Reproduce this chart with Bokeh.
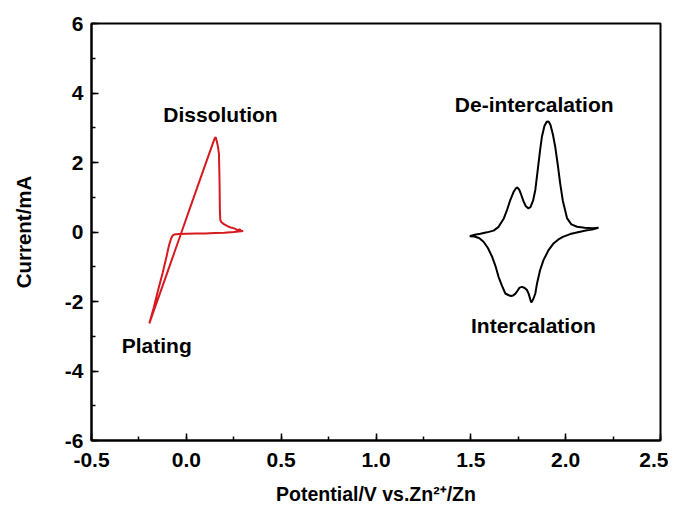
from bokeh.plotting import figure
from bokeh.models import Range1d, SingleIntervalTicker, PrintfTickFormatter, Label
from bokeh.embed import file_html
from bokeh.resources import INLINE

# Zn plating / dissolution CV (red)
zn_potential = [0.30, 0.25, 0.20, 0.15, 0.10, 0.05, 0.00, -0.04, -0.062, -0.072, -0.080,
                -0.092, -0.105, -0.125, -0.15, -0.172, -0.195,
                -0.17, -0.14, -0.10, -0.06, -0.02, 0.02, 0.06, 0.10, 0.13, 0.143, 0.150,
                0.155, 0.160, 0.167, 0.172, 0.175, 0.177, 0.179, 0.185, 0.20, 0.22, 0.24,
                0.26, 0.27, 0.28, 0.29, 0.30]
zn_current = [0.03, 0.00, -0.02, -0.03, -0.04, -0.045, -0.05, -0.06, -0.07, -0.10, -0.18,
              -0.40, -0.72, -1.18, -1.70, -2.18, -2.63,
              -2.24, -1.78, -1.16, -0.54, 0.08, 0.70, 1.32, 1.94, 2.40, 2.60, 2.70,
              2.73, 2.62, 2.45, 2.25, 1.50, 0.60, 0.35, 0.28, 0.22, 0.16, 0.12,
              0.09, 0.04, 0.08, 0.03, 0.03]

# Cathode intercalation / de-intercalation CV (black)
cat_potential = [1.494, 1.52, 1.55, 1.585, 1.62, 1.645, 1.673, 1.69, 1.708, 1.725, 1.738, 1.746,
                 1.755, 1.765, 1.778, 1.790, 1.804, 1.815, 1.828, 1.840, 1.852, 1.865, 1.875,
                 1.888, 1.900, 1.910, 1.920, 1.933, 1.945, 1.958, 1.971, 1.985, 2.007, 2.030,
                 2.06, 2.10, 2.14, 2.173,
                 2.14, 2.112, 2.07, 2.024, 1.985, 1.960, 1.936, 1.910, 1.883, 1.865, 1.849,
                 1.840, 1.830, 1.822, 1.819, 1.814, 1.805, 1.796, 1.784, 1.770, 1.757, 1.745,
                 1.734, 1.722, 1.712, 1.700, 1.682, 1.665, 1.646, 1.630, 1.612, 1.590, 1.567,
                 1.545, 1.52, 1.494]
cat_current = [-0.12, -0.08, -0.05, -0.01, 0.04, 0.14, 0.38, 0.62, 0.92, 1.15, 1.26, 1.28,
               1.22, 1.08, 0.88, 0.74, 0.68, 0.72, 0.90, 1.21, 1.75, 2.35, 2.75,
               3.05, 3.17, 3.18, 3.08, 2.80, 2.45, 1.95, 1.40, 0.90, 0.40, 0.22,
               0.15, 0.12, 0.11, 0.12,
               0.07, 0.05, 0.00, -0.06, -0.14, -0.22, -0.33, -0.52, -0.81, -1.10, -1.48,
               -1.77, -1.92, -2.00, -2.03, -1.95, -1.78, -1.67, -1.61, -1.58, -1.60, -1.70,
               -1.78, -1.83, -1.84, -1.82, -1.77, -1.56, -1.29, -0.98, -0.71, -0.46, -0.28,
               -0.18, -0.13, -0.12]

x_start, x_end = -0.5, 2.5
y_start, y_end = -6, 6

FONT = "Liberation Sans"

p = figure(width=668, height=510, output_backend="svg", toolbar_location=None,
           x_range=Range1d(x_start, x_end), y_range=Range1d(y_start, y_end),
           min_border_left=91, min_border_right=8, min_border_top=23, min_border_bottom=70,
           background_fill_color="white", border_fill_color="white")

p.line(zn_potential, zn_current, line_color="#d71920", line_width=2)
p.line(cat_potential, cat_current, line_color="black", line_width=2)

p.xgrid.visible = False
p.ygrid.visible = False
p.outline_line_color = "black"
p.outline_line_width = 2

p.xaxis.ticker = SingleIntervalTicker(interval=0.5, num_minor_ticks=2)
p.yaxis.ticker = SingleIntervalTicker(interval=2, num_minor_ticks=2)
p.xaxis.formatter = PrintfTickFormatter(format="%.1f")
p.yaxis.formatter = PrintfTickFormatter(format="%d")

for ax in (p.xaxis, p.yaxis):
    ax.axis_line_color = "black"
    ax.axis_line_width = 2
    ax.major_tick_line_color = "black"
    ax.major_tick_line_width = 1.5
    ax.minor_tick_line_color = "black"
    ax.minor_tick_line_width = 1.5
    ax.major_tick_in = 7
    ax.major_tick_out = 0
    ax.minor_tick_in = 4
    ax.minor_tick_out = 0
    ax.major_label_text_font = FONT
    ax.major_label_text_font_style = "bold"
    ax.major_label_text_font_size = "21px"
    ax.major_label_text_color = "black"
    ax.axis_label_text_font = FONT
    ax.axis_label_text_font_style = "bold"
    ax.axis_label_text_color = "black"

p.xaxis.axis_label_text_font_size = "19.5px"
p.yaxis.axis_label_text_font_size = "20.5px"
p.xaxis.axis_label = "Potential/V vs.Zn\u00b2\u207a/Zn"
p.yaxis.axis_label = "Current/mA"
p.xaxis.major_label_standoff = 12
p.yaxis.major_label_standoff = 8
p.xaxis.axis_label_standoff = 13
p.yaxis.axis_label_standoff = 27

labels = [
    ("Dissolution", 0.18, 3.37),
    ("De-intercalation", 1.834, 3.66),
    ("Intercalation", 1.83, -2.68),
    ("Plating", -0.156, -3.26),
]
for txt, lx, ly in labels:
    p.add_layout(Label(x=lx, y=ly, text=txt, text_align="center", text_baseline="middle",
                       text_font=FONT, text_font_style="bold", text_font_size="21px",
                       text_color="black"))

open("out.html", "w").write(file_html(p, INLINE))
